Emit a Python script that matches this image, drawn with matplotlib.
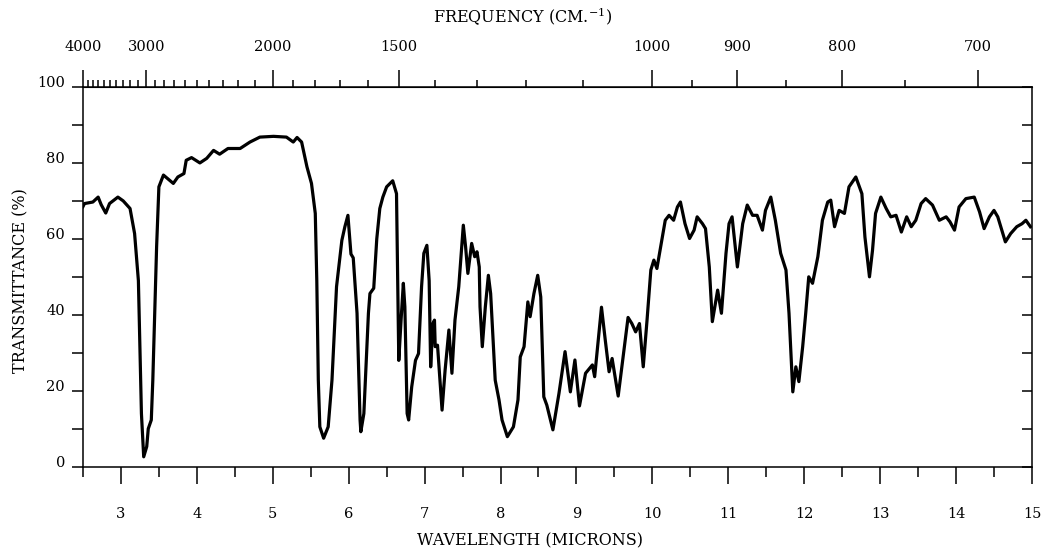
import numpy as np
import matplotlib
matplotlib.use("Agg")
import matplotlib.pyplot as plt
from matplotlib.transforms import ScaledTranslation

# spectrum: wavelength (microns) vs transmittance (%)
wavelength = [
    2.50, 2.52, 2.63, 2.70, 2.74, 2.80, 2.85, 2.96, 3.03, 3.12,
    3.18, 3.23, 3.25, 3.27, 3.30, 3.34, 3.36, 3.40, 3.42, 3.47,
    3.50, 3.56, 3.69, 3.75, 3.83, 3.86, 3.93, 4.04, 4.13, 4.22,
    4.30, 4.41, 4.57, 4.70, 4.83, 5.01, 5.18, 5.27, 5.32, 5.38,
    5.45, 5.51, 5.56, 5.58, 5.60, 5.62, 5.67, 5.73, 5.78, 5.84,
    5.91, 5.95, 5.99, 6.03, 6.06, 6.11, 6.15, 6.16, 6.20, 6.26,
    6.28, 6.33, 6.37, 6.41, 6.45, 6.50, 6.58, 6.63, 6.64, 6.66,
    6.69, 6.72, 6.74, 6.77, 6.79, 6.83, 6.88, 6.92, 6.96, 6.99,
    7.03, 7.06, 7.08, 7.11, 7.13, 7.14, 7.17, 7.23, 7.27, 7.32,
    7.36, 7.40, 7.45, 7.51, 7.54, 7.57, 7.62, 7.66, 7.69, 7.72,
    7.73, 7.76, 7.80, 7.84, 7.87, 7.93, 7.98, 8.02, 8.09, 8.17,
    8.23, 8.26, 8.31, 8.36, 8.39, 8.44, 8.49, 8.53, 8.57, 8.61,
    8.69, 8.77, 8.85, 8.92, 8.98, 9.04, 9.12, 9.21, 9.24, 9.33,
    9.38, 9.43, 9.47, 9.55, 9.62, 9.68, 9.73, 9.78, 9.83, 9.88,
    9.93, 9.98, 10.02, 10.06, 10.11, 10.17, 10.22, 10.28, 10.33, 10.37,
    10.43, 10.49, 10.55, 10.59, 10.66, 10.70, 10.75, 10.79, 10.86, 10.91,
    10.97, 11.01, 11.05, 11.12, 11.19, 11.25, 11.32, 11.38, 11.45, 11.49,
    11.56, 11.62, 11.69, 11.76, 11.80, 11.85, 11.89, 11.93, 11.98, 12.02,
    12.06, 12.11, 12.18, 12.24, 12.31, 12.35, 12.40, 12.46, 12.53, 12.59,
    12.68, 12.76, 12.80, 12.86, 12.90, 12.94, 13.01, 13.08, 13.14, 13.21,
    13.28, 13.35, 13.41, 13.47, 13.54, 13.60, 13.69, 13.78, 13.87, 13.92,
    13.98, 14.04, 14.13, 14.24, 14.31, 14.37, 14.44, 14.50, 14.55, 14.65,
    14.72, 14.80, 14.87, 14.92, 14.98,
]
transmittance = [
    68.5, 69.3, 69.7, 71.0, 69.0, 66.8, 69.3, 71.0, 70.0, 68.0,
    61.4, 49.0, 31.6, 14.0, 2.6, 5.3, 10.0, 12.3, 22.8, 57.9,
    73.7, 76.8, 74.6, 76.3, 77.2, 80.7, 81.4, 80.0, 81.2, 83.3,
    82.3, 83.8, 83.8, 85.5, 86.8, 87.0, 86.8, 85.5, 86.7, 85.5,
    79.0, 74.6, 66.7, 49.0, 22.8, 10.5, 7.5, 10.5, 22.8, 47.4,
    59.6, 63.2, 66.2, 56.0, 55.0, 40.4, 12.3, 9.2, 14.0, 40.4,
    45.6, 47.0, 60.0, 68.0, 71.0, 73.7, 75.3, 71.9, 57.9, 28.0,
    38.6, 48.3, 42.1, 14.0, 12.3, 21.0, 28.0, 29.8, 47.4, 56.2,
    58.3, 49.0, 26.3, 37.7, 38.6, 31.6, 32.0, 14.9, 25.4, 36.0,
    24.6, 38.6, 47.4, 63.6, 57.9, 50.9, 58.8, 55.3, 56.6, 52.6,
    42.1, 31.6, 42.1, 50.4, 45.6, 22.8, 17.6, 12.3, 7.9, 10.5,
    17.6, 28.9, 31.6, 43.4, 39.5, 45.6, 50.4, 44.7, 18.4, 16.2,
    9.7, 19.3, 30.3, 19.7, 28.1, 16.0, 24.6, 26.8, 23.7, 42.0,
    33.3, 25.0, 28.5, 18.6, 29.8, 39.3, 37.7, 35.5, 37.7, 26.3,
    38.6, 51.8, 54.4, 52.2, 57.9, 64.9, 66.2, 64.9, 68.4, 69.7,
    64.0, 60.1, 62.3, 65.8, 64.0, 62.7, 52.6, 38.2, 46.5, 40.4,
    56.2, 64.0, 65.8, 52.6, 64.0, 68.9, 66.2, 66.2, 62.3, 67.5,
    71.0, 64.9, 56.2, 51.8, 40.4, 19.7, 26.3, 22.4, 31.6, 40.4,
    50.0, 48.3, 55.3, 64.9, 69.7, 70.2, 63.2, 67.5, 66.7, 73.7,
    76.3, 71.9, 60.5, 50.0, 57.0, 66.7, 71.0, 68.0, 65.8, 66.2,
    61.8, 65.8, 63.2, 64.9, 69.3, 70.6, 68.9, 64.9, 65.8, 64.5,
    62.3, 68.4, 70.6, 71.0, 67.1, 62.7, 65.8, 67.5, 65.8, 59.2,
    61.4, 63.2, 64.0, 64.9, 63.2,
]

# axis ticks
wl_major = [3, 4, 5, 6, 7, 8, 9, 10, 11, 12, 13, 14, 15]
wl_minor = [2.5, 3.5, 4.5, 5.5, 6.5, 7.5, 8.5, 9.5, 10.5, 11.5, 12.5, 13.5, 14.5]
freq_major = [4000, 3000, 2000, 1500, 1000, 900, 800, 700]
freq_minor = (list(range(3900, 2000, -100)) + [1900, 1800, 1700, 1600, 1400, 1300, 1200, 1100]
              + [950, 850, 750])
t_major = [0, 20, 40, 60, 80, 100]
t_minor = [10, 30, 50, 70, 90]

plt.rcParams['font.family'] = ['DejaVu Serif']
plt.rcParams['mathtext.fontset'] = 'dejavuserif'

fig = plt.figure(figsize=(10.41, 5.53), dpi=100)
ax = fig.add_axes([0.0797, 0.1561, 0.9116, 0.6866])

ax.plot(wavelength, transmittance, color='black', lw=2.3, solid_joinstyle='round')

ax.set_xlim(2.5, 15)
ax.set_ylim(0, 100)

for s in ax.spines.values():
    s.set_linewidth(1.1)

ax.set_xticks(wl_major)
ax.set_xticks(wl_minor, minor=True)
ax.tick_params(axis='x', which='major', direction='out', length=12, width=1.1,
               labelsize=10.5, pad=17)
ax.tick_params(axis='x', which='minor', direction='out', length=7, width=1.1)

ax.set_yticks(t_major)
ax.set_yticks(t_minor, minor=True)
ax.tick_params(axis='y', which='both', direction='out', length=8, width=1.1,
               labelsize=10.5, pad=5, right=True)
ax.tick_params(axis='y', which='minor', labelleft=False)
# right side ticks point inward like the printed chart
for t in ax.yaxis.get_major_ticks() + ax.yaxis.get_minor_ticks():
    t.tick2line.set_marker(matplotlib.lines.TICKLEFT)
    t.tick2line.set_markersize(7)
for lab in ax.get_yticklabels():
    lab.set_transform(lab.get_transform() + ScaledTranslation(0, 4 / 72, fig.dpi_scale_trans))

ax.set_xlabel("WAVELENGTH (MICRONS)", fontsize=11.5, labelpad=8)
ax.xaxis.label.set_x(0.471)
ax.set_ylabel("TRANSMITTANCE (%)", fontsize=11.5)
ax.yaxis.set_label_coords(-0.057, 0.49)


def to_freq(x):
    x = np.asarray(x, dtype=float)
    with np.errstate(divide='ignore'):
        return 10000.0 / x


top = ax.secondary_xaxis('top', functions=(to_freq, to_freq))
top.set_xticks(freq_major)
top.set_xticks(freq_minor, minor=True)
top.set_xticklabels([str(f) for f in freq_major])
top.tick_params(which='major', direction='out', length=12, width=1.1, labelsize=10.5, pad=12)
top.tick_params(which='minor', direction='out', length=5, width=1.1)
top.set_xlabel(r"FREQUENCY (CM.$^{-1}$)", fontsize=11.5, labelpad=12)
top.xaxis.label.set_x(0.463)

fig.savefig("out.png", dpi=100)
